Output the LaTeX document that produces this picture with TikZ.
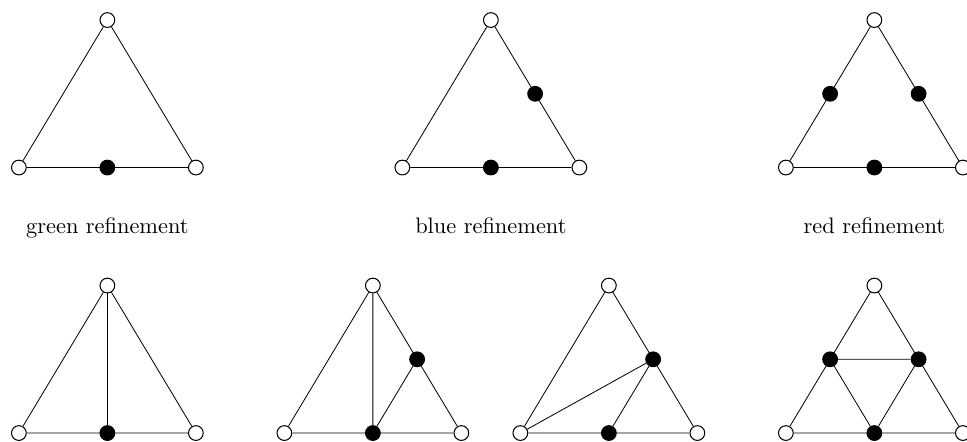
\documentclass[tikz,border=0pt]{standalone}
\usetikzlibrary{calc}

\tikzset{
  oldpt/.style={circle, draw, fill=white, line width=0.5pt, inner sep=0pt, minimum size=0.25cm},
  newpt/.style={circle, draw, fill=black, line width=0.5pt, inner sep=0pt, minimum size=0.25cm},
  caption/.style={anchor=base, font=\fontsize{10.8}{13}\selectfont}
}

\begin{document}
\begin{tikzpicture}
\def\w{3}
\def\h{2.5}

\useasboundingbox (-0.32,-0.14) rectangle (16.07,7.34);

% top row: the three refinement rules
% green
\node[oldpt] (gA) at (0,4.5) {};
\node[oldpt] (gB) at (\w,4.5) {};
\node[oldpt] (gC) at (\w/2,4.5+\h) {};
\draw (gA) -- (gB) -- (gC) -- (gA);
\node[newpt] (gAB) at ($(gA)!0.5!(gB)$) {};

% blue
\node[oldpt] (bA) at (6.5,4.5) {};
\node[oldpt] (bB) at (6.5+\w,4.5) {};
\node[oldpt] (bC) at (6.5+\w/2,4.5+\h) {};
\draw (bA) -- (bB) -- (bC) -- (bA);
\node[newpt] (bAB) at ($(bA)!0.5!(bB)$) {};
\node[newpt] (bBC) at ($(bB)!0.5!(bC)$) {};

% red
\node[oldpt] (rA) at (13,4.5) {};
\node[oldpt] (rB) at (13+\w,4.5) {};
\node[oldpt] (rC) at (13+\w/2,4.5+\h) {};
\draw (rA) -- (rB) -- (rC) -- (rA);
\node[newpt] (rAB) at ($(rA)!0.5!(rB)$) {};
\node[newpt] (rBC) at ($(rB)!0.5!(rC)$) {};
\node[newpt] (rCA) at ($(rC)!0.5!(rA)$) {};

\node[caption] (gcap) at (\w/2,3.39) {green refinement};
\node[caption] (bcap) at (6.5+\w/2,3.39) {blue refinement};
\node[caption] (rcap) at (13+\w/2,3.39) {red refinement};

% bottom row: the resulting subdivisions
% green
\node[oldpt] (GA) at (0,0) {};
\node[oldpt] (GB) at (\w,0) {};
\node[oldpt] (GC) at (\w/2,\h) {};
\draw (GA) -- (GB) -- (GC) -- (GA);
\node[newpt] (GAB) at ($(GA)!0.5!(GB)$) {};
\draw (GC) -- (GAB);

% blue, first variant
\node[oldpt] (BA) at (4.5,0) {};
\node[oldpt] (BB) at (4.5+\w,0) {};
\node[oldpt] (BC) at (4.5+\w/2,\h) {};
\draw (BA) -- (BB) -- (BC) -- (BA);
\node[newpt] (BAB) at ($(BA)!0.5!(BB)$) {};
\node[newpt] (BBC) at ($(BB)!0.5!(BC)$) {};
\draw (BC) -- (BAB) -- (BBC);

% blue, second variant
\node[oldpt] (VA) at (8.5,0) {};
\node[oldpt] (VB) at (8.5+\w,0) {};
\node[oldpt] (VC) at (8.5+\w/2,\h) {};
\draw (VA) -- (VB) -- (VC) -- (VA);
\node[newpt] (VAB) at ($(VA)!0.5!(VB)$) {};
\node[newpt] (VBC) at ($(VB)!0.5!(VC)$) {};
\draw (VA) -- (VBC) -- (VAB);

% red
\node[oldpt] (RA) at (13,0) {};
\node[oldpt] (RB) at (13+\w,0) {};
\node[oldpt] (RC) at (13+\w/2,\h) {};
\draw (RA) -- (RB) -- (RC) -- (RA);
\node[newpt] (RAB) at ($(RA)!0.5!(RB)$) {};
\node[newpt] (RBC) at ($(RB)!0.5!(RC)$) {};
\node[newpt] (RCA) at ($(RC)!0.5!(RA)$) {};
\draw (RAB) -- (RBC) -- (RCA) -- (RAB);
\end{tikzpicture}
\end{document}
